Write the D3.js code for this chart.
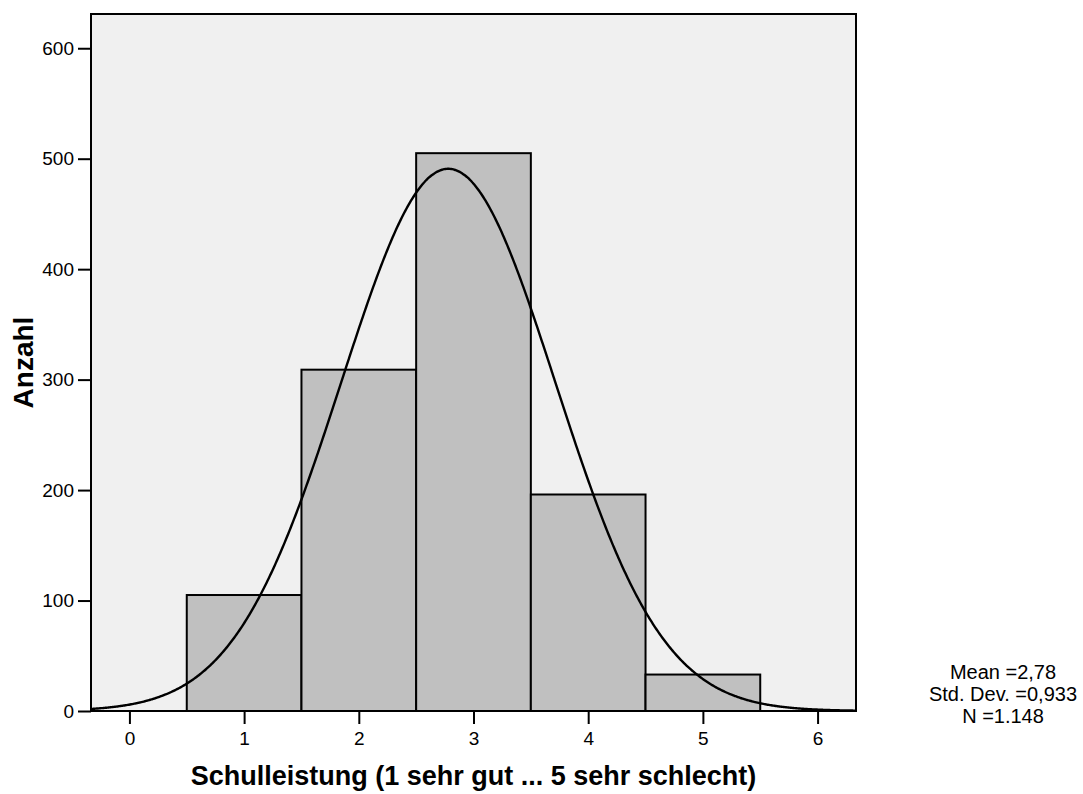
<!DOCTYPE html>
<html>
<head>
<meta charset="utf-8">
<script src="https://cdn.jsdelivr.net/npm/d3@7"></script>
<style>
  html, body { margin: 0; padding: 0; background: #ffffff; }
  svg { display: block; font-family: "Liberation Sans", Arial, sans-serif; }
</style>
</head>
<body>
<svg id="chart" width="1083" height="794"></svg>
<script>
// ---- data ----
const categories = [1, 2, 3, 4, 5];
const counts = [105, 309, 505, 196, 33];
const binWidth = 1;
const xTickValues = [0, 1, 2, 3, 4, 5, 6];
const yTickValues = [0, 100, 200, 300, 400, 500, 600];
const statMean = 2.78;
const statSD = 0.933;
const statN = 1148;
const statLabels = ["Mean =2,78", "Std. Dev. =0,933", "N =1.148"];
const xTitle = "Schulleistung (1 sehr gut ... 5 sehr schlecht)";
const yTitle = "Anzahl";

// ---- layout ----
const svg = d3.select("#chart");
const plot = { left: 91, right: 856, top: 14, bottom: 711 };

const x = d3.scaleLinear().domain([-0.335, 6.335]).range([plot.left, plot.right]);
const y = d3.scaleLinear().domain([0, 631]).range([plot.bottom, plot.top]);

// plot background
svg.append("rect")
  .attr("x", plot.left).attr("y", plot.top)
  .attr("width", plot.right - plot.left).attr("height", plot.bottom - plot.top)
  .attr("fill", "#f0f0f0");

// clip
svg.append("clipPath").attr("id", "clip")
  .append("rect")
  .attr("x", plot.left).attr("y", plot.top)
  .attr("width", plot.right - plot.left).attr("height", plot.bottom - plot.top);

// bars
svg.append("g").selectAll("rect")
  .data(categories.map((c, i) => ({ c, v: counts[i] })))
  .join("rect")
  .attr("x", d => x(d.c - binWidth / 2))
  .attr("y", d => y(d.v))
  .attr("width", d => x(d.c + binWidth / 2) - x(d.c - binWidth / 2))
  .attr("height", d => y(0) - y(d.v))
  .attr("fill", "#c0c0c0")
  .attr("stroke", "#000")
  .attr("stroke-width", 2);

// fitted normal curve from displayed statistics
const xs = d3.range(-0.335, 6.336, 0.01);
const curve = xs.map(v => {
  const z = (v - statMean) / statSD;
  return [v, statN * binWidth * Math.exp(-0.5 * z * z) / (statSD * Math.sqrt(2 * Math.PI))];
});
svg.append("path")
  .datum(curve)
  .attr("clip-path", "url(#clip)")
  .attr("fill", "none")
  .attr("stroke", "#000")
  .attr("stroke-width", 2.4)
  .attr("d", d3.line().x(d => x(d[0])).y(d => y(d[1])).curve(d3.curveBasis));

// frame
svg.append("rect")
  .attr("x", plot.left).attr("y", plot.top)
  .attr("width", plot.right - plot.left).attr("height", plot.bottom - plot.top)
  .attr("fill", "none").attr("stroke", "#000").attr("stroke-width", 2);

// axes
const yAxis = svg.append("g")
  .attr("transform", `translate(${plot.left},0)`)
  .call(d3.axisLeft(y).tickValues(yTickValues).tickSize(13).tickPadding(4).tickFormat(d3.format("d")));
const xAxis = svg.append("g")
  .attr("transform", `translate(0,${plot.bottom})`)
  .call(d3.axisBottom(x).tickValues(xTickValues).tickSize(13).tickPadding(8).tickFormat(d3.format("d")));
[yAxis, xAxis].forEach(a => {
  a.select(".domain").remove();
  a.selectAll(".tick line").attr("stroke", "#000").attr("stroke-width", 2);
  a.selectAll(".tick text")
    .attr("fill", "#000")
    .style("font-family", '"Liberation Sans", Arial, sans-serif')
    .style("font-size", "19px");
});

// axis titles
svg.append("text")
  .attr("x", (plot.left + plot.right) / 2).attr("y", 785)
  .attr("text-anchor", "middle")
  .style("font-size", "27px").style("font-weight", "bold")
  .text(xTitle);

svg.append("text")
  .attr("transform", `translate(33,${(plot.top + plot.bottom) / 2}) rotate(-90)`)
  .attr("text-anchor", "middle")
  .style("font-size", "28px").style("font-weight", "bold")
  .text(yTitle);

// statistics box
svg.append("g").selectAll("text")
  .data(statLabels)
  .join("text")
  .attr("x", 1003)
  .attr("y", (d, i) => 679 + i * 22)
  .attr("text-anchor", "middle")
  .style("font-size", "20px")
  .text(d => d);
</script>
</body>
</html>
